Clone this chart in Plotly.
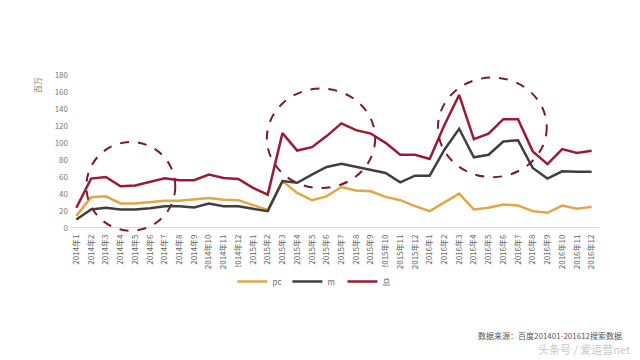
import plotly.graph_objects as go

months = [f"{y}年{m}" for y in (2014, 2015, 2016) for m in range(1, 13)]

pc = [14, 36, 37, 28.6, 28.6, 30.5, 31.7, 31.7, 33, 35, 33, 32.5,
      26.6, 21, 55, 41, 32.5, 37, 48, 44, 43, 36.4, 32.5, 25.4,
      19.6, 30, 40.3, 21.5, 23.5, 27.4, 26.2, 19.6, 17.6, 26.2, 22.3, 24.6]
m = [9.8, 21.5, 23.5, 21.5, 21.5, 23, 25.4, 25.4, 24, 28.5, 25.4, 25.4,
     22.3, 19.6, 55, 53, 62.6, 71.6, 75.5, 71.6, 68.5, 64.6, 53.6, 61.4,
     61.4, 92, 116.6, 83, 86, 101.7, 103, 70.4, 58, 66.5, 66, 66]
total = [23.5, 57.9, 59.9, 48.9, 49.7, 53.6, 58.3, 56, 56, 62.6, 58.7, 57.5,
         47, 39, 111.5, 91, 95, 108, 123, 115, 111, 100, 86, 86,
         81, 121, 156.5, 104.5, 111, 128, 128, 90, 75, 92.7, 88, 90.8]

series_names = ["pc", "m", "总"]
colors = ["#E3A645", "#3F3F3F", "#9A1B33"]

# highlight circles: (x0, x1) in category index, (y0, y1) in data units
circles = [(0.68, 6.72, -3.5, 101), (12.94, 20.3, 46.7, 164), (24.56, 31.95, 59.6, 177)]

font_family = "Noto Sans CJK SC, Noto Sans, sans-serif"

fig = go.Figure()
for name, vals, c in zip(series_names, [pc, m, total], colors):
    fig.add_trace(go.Scatter(x=months, y=vals, mode="lines", name=name,
                             line=dict(color=c, width=2.5)))

for x0, x1, y0, y1 in circles:
    fig.add_shape(type="circle", xref="x", yref="y", x0=x0, x1=x1, y0=y0, y1=y1,
                  line=dict(color="#7A1A30", width=2, dash="dash"))

# page body adds an 8px offset; figure sized to fill the rest of the window
fig.update_layout(
    width=632, height=352,
    margin=dict(l=60.6, r=40.8, t=67, b=127.75),
    paper_bgcolor="white", plot_bgcolor="white",
    font=dict(family=font_family, size=8, color="#666"),
    showlegend=True,
    legend=dict(orientation="h", x=0.464, xanchor="center", y=-0.316, yanchor="middle",
                font=dict(size=8, color="#666"), entrywidth=10, entrywidthmode="pixels",
                tracegroupgap=0),
    xaxis=dict(type="category", range=[-0.5, len(months) - 0.5], tickangle=-90,
               showgrid=False, showline=False, ticks="", automargin=False,
               tickfont=dict(size=8, color="#666")),
    yaxis=dict(range=[-5, 180], dtick=20, tick0=0, showgrid=False, zeroline=True,
               zerolinecolor="#D9D9D9", zerolinewidth=1, showline=False,
               automargin=False, tickfont=dict(size=8, color="#777")),
    annotations=[
        dict(text="百万", textangle=-90, xref="paper", yref="paper", x=-0.06, y=1.0,
             xanchor="center", yanchor="top", showarrow=False,
             font=dict(size=8, color="#777")),
        dict(text="数据来源：百度201401-201612搜索数据", xref="paper", yref="paper",
             x=1.048, y=-0.662, xanchor="right", yanchor="middle", showarrow=False,
             font=dict(size=8, color="#555")),
        dict(text="头条号 / 爱运营net", xref="paper", yref="paper",
             x=1.062, y=-0.748, xanchor="right", yanchor="middle", showarrow=False,
             font=dict(size=11, color="#C8C8C8")),
    ],
)

fig.write_html("out.html")
